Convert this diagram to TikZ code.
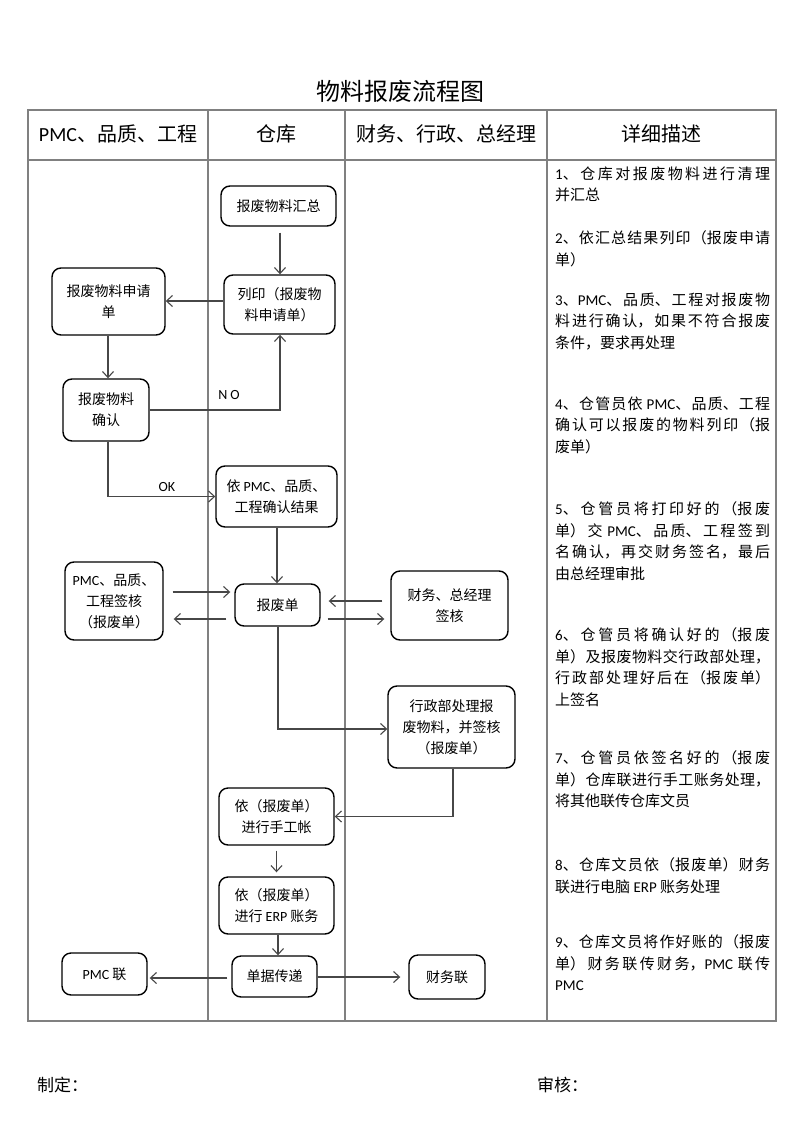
\documentclass[tikz,border=0pt]{standalone}
\usepackage{fontspec}
\setmainfont{Noto Sans CJK SC}
\newfontfamily\latf{Carlito}
\usetikzlibrary{arrows.meta,calc}
\XeTeXlinebreaklocale "zh"
\XeTeXlinebreakskip=0pt plus 3pt
\begin{document}
\begin{tikzpicture}[x=1pt,y=-1pt,
  box/.style={draw=black, line width=1.4pt, rounded corners=9pt, align=center, inner sep=0pt, font=\fontsize{14pt}{21pt}\selectfont},
  arr/.style={draw=black!72, line width=1.1pt, -{Straight Barb[length=6pt,width=11pt]}},
  gridline/.style={draw=black!50, line width=1.4pt},
  head/.style={font=\fontsize{20pt}{24pt}\selectfont, inner sep=0pt},
  desc/.style={anchor=north west, text width=215pt, align=justify, inner sep=0pt, font=\fontsize{15pt}{21.5pt}\selectfont},
  lbl/.style={font=\latf\fontsize{14pt}{16pt}\selectfont, inner sep=0pt},
  foot/.style={anchor=west, inner sep=0pt, font=\fontsize{17pt}{20pt}\selectfont}]
\useasboundingbox (0,0) rectangle (800,1132);
\fill[white] (0,0) rectangle (800,1132);

\node[font=\fontsize{24pt}{28pt}\selectfont, inner sep=0pt] (title) at (400,91) {物料报废流程图};

% table
\draw[gridline] (28,110) rectangle (776,1021);
\draw[gridline] (28,160) -- (776,160);
\foreach \x in {208,345,547} \draw[gridline] (\x,110) -- (\x,1021);

\node[head] (h1) at (118,134) {{\latf PMC}、品质、工程};
\node[head] (h2) at (276.5,134) {仓库};
\node[head] (h3) at (446,134) {财务、行政、总经理};
\node[head] (h4) at (661.5,134) {详细描述};

% nodes
\node[box, minimum width=115pt, minimum height=40pt] (n1) at (278.5,206) {报废物料汇总};
\node[box, minimum width=111pt, minimum height=59pt] (n2) at (279.5,304.5) {列印（报废物\\料申请单）};
\node[box, minimum width=113pt, minimum height=67pt] (n3) at (108.5,301.5) {报废物料申请\\单};
\node[box, minimum width=86pt, minimum height=62pt] (n4) at (106,410) {报废物料\\确认};
\node[box, minimum width=121pt, minimum height=61pt] (n5) at (276.5,496.5) {依 {\latf PMC}、品质、\\工程确认结果};
\node[box, minimum width=98pt, minimum height=78pt] (n6) at (114,601) {{\latf PMC}、品质、\\工程签核\\（报废单）};
\node[box, minimum width=85pt, minimum height=42pt] (n7) at (277.5,605) {报废单};
\node[box, minimum width=117pt, minimum height=69pt] (n8) at (449.5,605.5) {财务、总经理\\签核};
\node[box, minimum width=127pt, minimum height=82pt] (n9) at (451.5,727) {行政部处理报\\废物料，并签核\\（报废单）};
\node[box, minimum width=115pt, minimum height=57pt] (n10) at (276.5,816.5) {依（报废单）\\进行手工帐};
\node[box, minimum width=115pt, minimum height=57pt] (n11) at (276.5,905.5) {依（报废单）\\进行 {\latf ERP} 账务};
\node[box, minimum width=85pt, minimum height=41pt] (n12) at (274.5,976.5) {单据传递};
\node[box, minimum width=85pt, minimum height=42pt] (n13) at (104.5,974) {{\latf PMC} 联};
\node[box, minimum width=76pt, minimum height=44pt] (n14) at (447,977) {财务联};

% connectors
\draw[arr] ([xshift=1.5pt,yshift=-6pt]n1.south) -- ([xshift=0.5pt]n2.north);
\draw[arr] ([yshift=3.5pt]n2.west) -- ([yshift=0.5pt]n3.east);
\draw[arr] ([xshift=-0.5pt]n3.south) -- ([xshift=2pt]n4.north);
\draw[arr] (n4.east) -| ([xshift=0.5pt]n2.south);
\node[lbl] (no) at (229,395) {N O};
\draw[arr] ([xshift=2pt]n4.south) |- (n5.west);
\node[lbl] (ok) at (167,487) {OK};
\draw[arr] ([xshift=0.5pt]n5.south) -- ([xshift=-0.5pt]n7.north);
\draw[arr] ([xshift=9pt,yshift=9pt]n6.east) -- ([xshift=-4pt,yshift=13pt]n7.west);
\draw[arr] ([xshift=-8pt,yshift=-14pt]n7.west) -- ([xshift=10pt,yshift=-18pt]n6.east);
\draw[arr] ([xshift=-8pt,yshift=4.5pt]n8.west) -- ([xshift=8pt,yshift=4pt]n7.east);
\draw[arr] ([xshift=7pt,yshift=-14pt]n7.east) -- ([xshift=-6pt,yshift=-13.5pt]n8.west);
\draw[arr] ([xshift=0.5pt]n7.south) |- ([yshift=-2pt]n9.west);
\draw[arr] ([xshift=1.5pt]n9.south) |- (n10.east);
\draw[arr] ([yshift=-5pt]n10.south) -- ([yshift=4pt]n11.north);
\draw[arr] ([xshift=1.5pt]n11.south) -- ([xshift=3.5pt]n12.north);
\draw[arr] ([xshift=-4pt,yshift=-1.5pt]n12.west) -- ([xshift=2pt,yshift=-4pt]n13.east);
\draw[arr] ([yshift=-0.5pt]n12.east) -- ([xshift=-8pt]n14.west);

% description
\node[desc] (d1) at (555,166.5) {\noindent{\latf 1}、仓库对报废物料进行清理\linebreak 并汇总};
\node[desc] (d2) at (555,230.5) {\noindent{\latf 2}、依汇总结果列印（报废申请\linebreak 单）};
\node[desc] (d3) at (555,292.5) {\noindent{\latf 3}、{\latf PMC}、品质、工程对报废物\linebreak 料进行确认，如果不符合报废\linebreak 条件，要求再处理};
\node[desc] (d4) at (555,396.5) {\noindent{\latf 4}、仓管员依 {\latf PMC}、品质、工程\linebreak 确认可以报废的物料列印（报\linebreak 废单）};
\node[desc] (d5) at (555,501.5) {\noindent{\latf 5}、仓管员将打印好的（报废\linebreak 单）交 {\latf PMC}、品质、工程签到\linebreak 名确认，再交财务签名，最后\linebreak 由总经理审批};
\node[desc] (d6) at (555,627.5) {\noindent{\latf 6}、仓管员将确认好的（报废\linebreak 单）及报废物料交行政部处理，\linebreak 行政部处理好后在（报废单）\linebreak 上签名};
\node[desc] (d7) at (555,750.5) {\noindent{\latf 7}、仓管员依签名好的（报废\linebreak 单）仓库联进行手工账务处理，\linebreak 将其他联传仓库文员};
\node[desc] (d8) at (555,857.5) {\noindent{\latf 8}、仓库文员依（报废单）财务\linebreak 联进行电脑 {\latf ERP} 账务处理};
\node[desc] (d9) at (555,934.5) {\noindent{\latf 9}、仓库文员将作好账的（报废\linebreak 单）财务联传财务，{\latf PMC} 联传\linebreak {\latf PMC}};

% footer
\node[foot] (f1) at (37,1085) {制定：};
\node[foot] (f2) at (537,1085) {审核：};
\end{tikzpicture}
\end{document}
